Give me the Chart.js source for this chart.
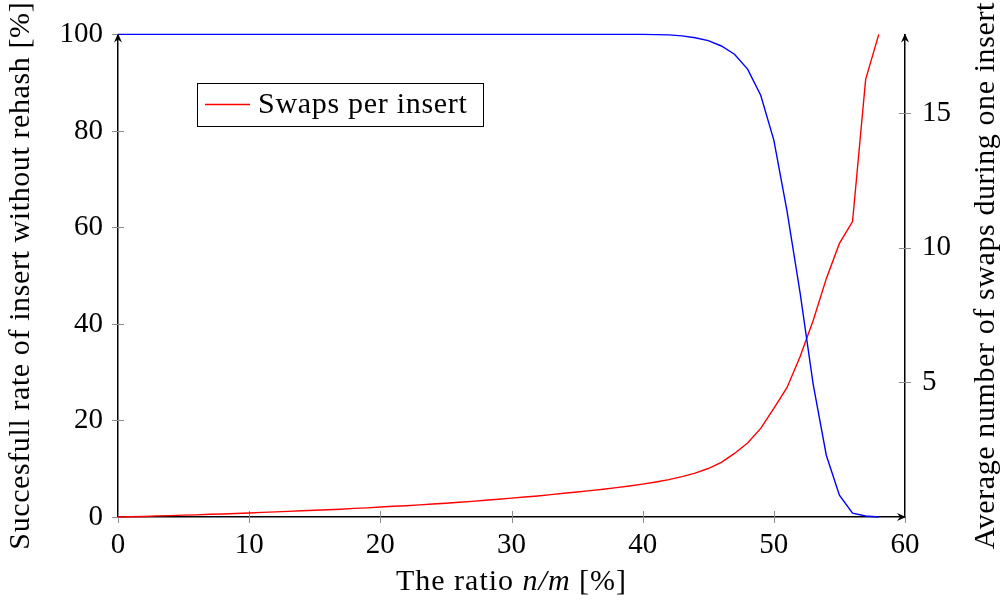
<!DOCTYPE html>
<html>
<head>
<meta charset="utf-8">
<script src="https://cdn.jsdelivr.net/npm/chart.js@4.4.1/dist/chart.umd.min.js"></script>
<style>
  body { margin: 0; background: #fff; }
  #wrap { width: 1000px; height: 605px; }
</style>
</head>
<body>
<div id="wrap"><canvas id="cuckooChart"></canvas></div>
<script>
// load factor n/m in percent
const ratios = [0, 1, 2, 3, 4, 5, 6, 7, 8, 9, 10, 11, 12, 13, 14, 15, 16, 17, 18, 19,
    20, 21, 22, 23, 24, 25, 26, 27, 28, 29, 30, 31, 32, 33, 34, 35, 36, 37, 38, 39,
    40, 41, 42, 43, 44, 45, 46, 47, 48, 49, 50, 51, 52, 53, 54, 55, 56, 57, 58];

// successful inserts without rehash [%]
const successRate = [100, 100, 100, 100, 100, 100, 100, 100, 100, 100, 100, 100, 100, 100, 100, 100, 100, 100, 100, 100,
    100, 100, 100, 100, 100, 100, 100, 100, 100, 100, 100, 100, 100, 100, 100, 100, 100, 100, 100, 100,
    100, 99.95, 99.9, 99.7, 99.3, 98.7, 97.6, 95.9, 92.8, 87.4, 78.1, 63.5, 46.5, 27.5, 12.8, 4.5, 0.8, 0.2, 0];

// average swaps during one insert
const swapsPerInsert = [0, 0.01, 0.02, 0.04, 0.05, 0.07, 0.08, 0.1, 0.11, 0.13, 0.15, 0.17, 0.19, 0.21, 0.23, 0.25, 0.27, 0.29, 0.32, 0.34,
    0.37, 0.4, 0.42, 0.45, 0.48, 0.51, 0.55, 0.58, 0.62, 0.66, 0.7, 0.74, 0.78, 0.83, 0.88, 0.93, 0.98, 1.03, 1.09, 1.15,
    1.22, 1.3, 1.39, 1.5, 1.63, 1.8, 2.03, 2.36, 2.75, 3.29, 4.03, 4.8, 5.95, 7.3, 8.85, 10.16, 10.97, 16.25, 17.92];

const xTicks = [0, 10, 20, 30, 40, 50, 60];
const leftTicks = [0, 20, 40, 60, 80, 100];
const rightTicks = [5, 10, 15];

const FONT = 'Liberation Serif';

// arrowhead (stealth-like) pointing in direction (dx, dy)
function arrowHead(ctx, tx, ty, dx, dy) {
    const px = -dy, py = dx;
    ctx.beginPath();
    ctx.moveTo(tx, ty);
    ctx.lineTo(tx - dx * 9 + px * 4, ty - dy * 9 + py * 4);
    ctx.lineTo(tx - dx * 6, ty - dy * 6);
    ctx.lineTo(tx - dx * 9 - px * 4, ty - dy * 9 - py * 4);
    ctx.closePath();
    ctx.fill();
}

// tick marks crossing the axis lines, drawn under the data
const crossTicks = {
    id: 'crossTicks',
    beforeDatasetsDraw(chart) {
        const ctx = chart.ctx;
        const { left, right, bottom } = chart.chartArea;
        ctx.save();
        ctx.strokeStyle = '#8c8c8c';
        ctx.lineWidth = 1;
        ctx.beginPath();
        xTicks.forEach(v => {
            const px = Math.round(chart.scales.x.getPixelForValue(v)) + 0.5;
            ctx.moveTo(px, bottom - 6); ctx.lineTo(px, bottom + 6);
        });
        leftTicks.forEach(v => {
            const py = Math.round(chart.scales.y.getPixelForValue(v)) + 0.5;
            ctx.moveTo(left - 6, py); ctx.lineTo(left + 6, py);
        });
        rightTicks.forEach(v => {
            const py = Math.round(chart.scales.y1.getPixelForValue(v)) + 0.5;
            ctx.moveTo(right - 6, py); ctx.lineTo(right + 6, py);
        });
        ctx.stroke();
        ctx.restore();
    }
};

// draw text with italic pieces, centred on (cx, cy)
function mixedText(ctx, parts, cx, cy) {
    let total = 0;
    parts.forEach(p => {
        ctx.font = p[1] + ' 30px "' + FONT + '"';
        total += ctx.measureText(p[0]).width;
    });
    let x = cx - total / 2;
    ctx.textAlign = 'left';
    parts.forEach(p => {
        ctx.font = p[1] + ' 30px "' + FONT + '"';
        ctx.fillText(p[0], x, cy);
        x += ctx.measureText(p[0]).width;
    });
}

// arrows, legend box and axis titles
const extras = {
    id: 'extras',
    afterDraw(chart) {
        const ctx = chart.ctx;
        const { left, right, top, bottom } = chart.chartArea;
        const midY = (top + bottom) / 2;
        ctx.save();
        ctx.fillStyle = 'black';
        arrowHead(ctx, left, top - 1, 0, -1);
        arrowHead(ctx, right, top - 1, 0, -1);
        arrowHead(ctx, right + 1, bottom, 1, 0);

        // legend
        ctx.fillStyle = 'white';
        ctx.fillRect(197.5, 83.5, 286, 43);
        ctx.strokeStyle = 'black';
        ctx.lineWidth = 1;
        ctx.strokeRect(197.5, 83.5, 286, 43);
        ctx.strokeStyle = 'red';
        ctx.lineWidth = 1.4;
        ctx.beginPath();
        ctx.moveTo(205, 104.5); ctx.lineTo(250, 104.5);
        ctx.stroke();
        ctx.fillStyle = 'black';
        ctx.textBaseline = 'middle';
        ctx.textAlign = 'left';
        ctx.letterSpacing = '0.7px';
        ctx.font = '30px "' + FONT + '"';
        ctx.fillText('Swaps per insert', 258, 105);

        // x axis title with italic n/m
        ctx.letterSpacing = '1px';
        mixedText(ctx, [['The ratio ', 'normal'], ['n/m', 'italic'], [' [%]', 'normal']], (left + right) / 2, 582);

        // y axis titles, both read bottom to top
        ctx.letterSpacing = '0.6px';
        ctx.font = '30px "' + FONT + '"';
        ctx.textAlign = 'center';
        ctx.save();
        ctx.translate(21, midY);
        ctx.rotate(-Math.PI / 2);
        ctx.fillText('Succesfull rate of insert without rehash [%]', 0, 0);
        ctx.restore();
        ctx.save();
        ctx.translate(986, midY);
        ctx.rotate(-Math.PI / 2);
        ctx.fillText('Average number of swaps during one insert', 0, 0);
        ctx.restore();
        ctx.restore();
    }
};

const ctx = document.getElementById('cuckooChart').getContext('2d');

new Chart(ctx, {
    type: 'line',
    data: {
        datasets: [{
            label: 'Succesfull rate',
            data: ratios.map((r, i) => ({ x: r, y: successRate[i] })),
            borderColor: 'rgb(0, 0, 255)',
            borderWidth: 1.4,
            pointRadius: 0,
            yAxisID: 'y',
            clip: 4
        }, {
            label: 'Swaps per insert',
            data: ratios.map((r, i) => ({ x: r, y: swapsPerInsert[i] })),
            borderColor: 'rgb(255, 0, 0)',
            borderWidth: 1.4,
            pointRadius: 0,
            yAxisID: 'y1',
            clip: 4
        }]
    },
    options: {
        responsive: true,
        maintainAspectRatio: false,
        animation: false,
        layout: { padding: { top: 32, left: 0, right: 0, bottom: 0 } },
        plugins: {
            legend: { display: false },
            tooltip: { enabled: false }
        },
        scales: {
            x: {
                type: 'linear',
                min: 0,
                max: 60,
                afterFit: s => { s.height = 88; },
                afterBuildTicks: s => { s.ticks = xTicks.map(v => ({ value: v })); },
                grid: { display: false, drawTicks: false },
                border: { color: 'black', width: 1.5 },
                ticks: { color: 'black', padding: 11, maxRotation: 0, font: { family: FONT, size: 29 } }
            },
            y: {
                position: 'left',
                min: 0,
                max: 100,
                afterFit: s => { s.width = 118; },
                afterBuildTicks: s => { s.ticks = leftTicks.map(v => ({ value: v })); },
                grid: { display: false, drawTicks: false },
                border: { color: 'black', width: 1.5 },
                ticks: { color: 'black', padding: 15, font: { family: FONT, size: 29 } }
            },
            y1: {
                position: 'right',
                min: 0,
                max: Math.max(...swapsPerInsert),
                afterFit: s => { s.width = 95; },
                afterBuildTicks: s => { s.ticks = rightTicks.map(v => ({ value: v })); },
                grid: { display: false, drawTicks: false },
                border: { color: 'black', width: 1.5 },
                ticks: { color: 'black', padding: 17, font: { family: FONT, size: 29 } }
            }
        }
    },
    plugins: [crossTicks, extras]
});
</script>
</body>
</html>
